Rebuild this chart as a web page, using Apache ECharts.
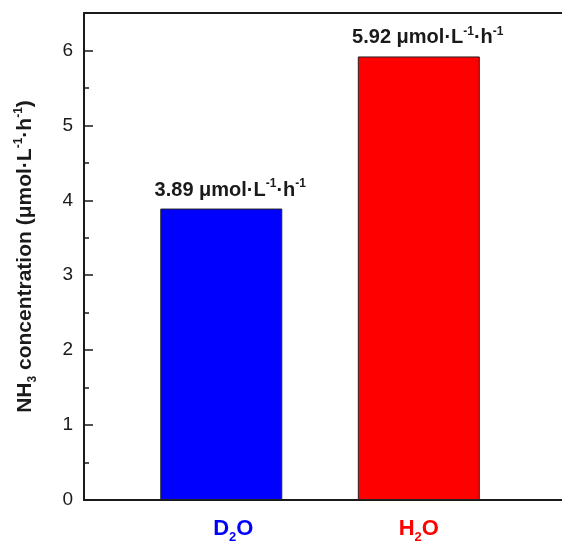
<!DOCTYPE html>
<html>
<head>
<meta charset="utf-8">
<script src="https://cdn.jsdelivr.net/npm/echarts@6/dist/echarts.min.js"></script>
<style>
  html, body { margin: 0; padding: 0; background: #fff; }
  #chart { width: 562px; height: 544px; }
</style>
</head>
<body>
<div id="chart"></div>
<script>
// positions of the two samples on the x axis
const positions = [1, 2];
const samples = ['D2O', 'H2O'];
const rates = [3.89, 5.92];
const barColors = ['#0000ff', '#ff0000'];
const yTicks = [0, 1, 2, 3, 4, 5, 6];

const font = 'Arial, "Liberation Sans", sans-serif';
const ink = '#1a1a1a';

const chart = echarts.init(document.getElementById('chart'));

const option = {
  backgroundColor: '#fff',
  animation: false,
  grid: {
    left: 84,
    top: 13,
    bottom: 44,
    right: 0,
    outerBoundsMode: 'none'
  },
  xAxis: [{
    type: 'value',
    min: 0.305,
    max: 2.725,
    axisLine: { show: true, lineStyle: { color: ink, width: 2 } },
    axisTick: { show: false },
    splitLine: { show: false },
    axisLabel: {
      customValues: positions,
      margin: 14,
      formatter: function (v) {
        // 1 -> D2O (blue), 2 -> H2O (red), subscripts via rich text
        const i = positions.indexOf(v);
        if (i < 0) return '';
        const s = samples[i];
        const k = i === 0 ? 'b' : 'r';
        const first = i === 0 ? 'bf' : 'r';
        return '{' + first + '|' + s[0] + '}{' + k + 's|' + s[1] + '}{' + k + '|' + s[2] + '}';
      },
      rich: {
        b: { color: '#0000ff', fontSize: 22, fontWeight: 'bold', fontFamily: font },
        bf: { color: '#0000ff', fontSize: 22, fontWeight: 'bold', fontFamily: font, padding: [0, 0, 0, 24] },
        bs: { color: '#0000ff', fontSize: 13, fontWeight: 'bold', fontFamily: font, padding: [17, 0, 0, 0] },
        r: { color: '#ff0000', fontSize: 22, fontWeight: 'bold', fontFamily: font },
        rs: { color: '#ff0000', fontSize: 13, fontWeight: 'bold', fontFamily: font, padding: [17, 0, 0, 0] }
      }
    }
  }, {
    // top frame line
    type: 'value',
    position: 'top',
    min: 0.305,
    max: 2.725,
    axisLine: { show: true, onZero: false, lineStyle: { color: ink, width: 2 } },
    axisTick: { show: false },
    axisLabel: { show: false },
    splitLine: { show: false }
  }],
  yAxis: {
    type: 'value',
    min: 0,
    max: 6.5,
    interval: 1,
    name: '{n|NH}{s|3}{n| concentration (μmol·L}{p|-1}{n|·h}{p|-1}{n|)}',
    nameLocation: 'middle',
    nameGap: 45,
    nameTextStyle: {
      rich: {
        n: { fontSize: 21, fontWeight: 'bold', color: ink, fontFamily: font },
        s: { fontSize: 12, fontWeight: 'bold', color: ink, fontFamily: font, padding: [15, 0, 0, 0] },
        p: { fontSize: 12, fontWeight: 'bold', color: ink, fontFamily: font, padding: [0, 0, 14, 0] }
      }
    },
    axisLine: { show: true, lineStyle: { color: ink, width: 2 } },
    axisTick: {
      show: true,
      inside: true,
      length: 9,
      customValues: yTicks,
      lineStyle: { color: ink, width: 1.5 }
    },
    minorTick: {
      show: true,
      splitNumber: 2,
      length: 5,
      lineStyle: { color: ink, width: 1.5 }
    },
    splitLine: { show: false },
    axisLabel: {
      customValues: yTicks,
      margin: 11,
      fontSize: 19,
      color: ink,
      fontFamily: font
    }
  },
  series: [{
    type: 'bar',
    barWidth: 122,
    data: positions.map((p, i) => ({
      value: [p, rates[i]],
      itemStyle: { color: barColors[i], borderColor: '#222', borderWidth: 1 }
    })),
    label: {
      show: true,
      position: 'top',
      distance: 6,
      offset: [9, 0],
      formatter: function (p) {
        return '{n|' + p.value[1].toFixed(2) + ' μmol·L}{p|-1}{n|·h}{p|-1}';
      },
      rich: {
        n: { fontSize: 20, fontWeight: 'bold', color: ink, fontFamily: font },
        p: { fontSize: 12, fontWeight: 'bold', color: ink, fontFamily: font, padding: [0, 0, 13, 0] }
      }
    }
  }]
};

chart.setOption(option);
</script>
</body>
</html>
